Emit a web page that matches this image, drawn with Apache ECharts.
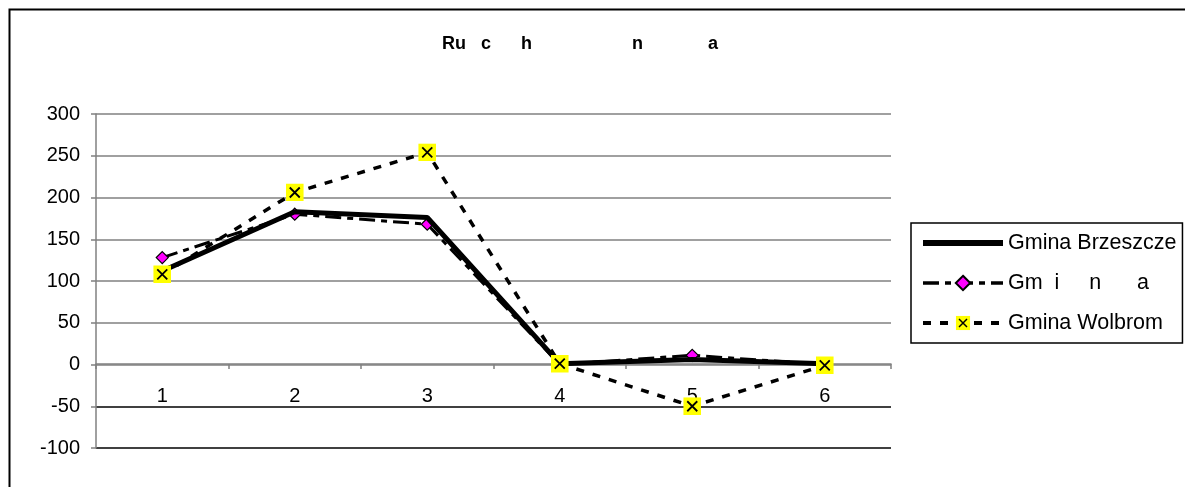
<!DOCTYPE html>
<html>
<head>
<meta charset="utf-8">
<script src="https://cdn.jsdelivr.net/npm/echarts@6/dist/echarts.min.js"></script>
<style>
html,body{margin:0;padding:0;background:#fff;}
#chart{width:1185px;height:487px;}
</style>
</head>
<body>
<div id="chart"></div>
<script>
const categories = ['1', '2', '3', '4', '5', '6'];
const brzeszcze = [112, 183, 176, 1, 6, 1];
const gminaB = [128, 180, 168, 0, 11, 0];
const wolbrom = [108, 206, 254, 1, -50, -1];
const names = ['Gmina Brzeszcze', 'Gm  i     n      a', 'Gmina Wolbrom'];
const titleText = 'Ru   c      h                    n             a';

const xSvg = 'image://data:image/svg+xml;utf8,' + encodeURIComponent(
  '<svg xmlns="http://www.w3.org/2000/svg" width="18" height="18" viewBox="0 0 18 18">' +
  '<rect x="0" y="0" width="18" height="18" fill="#ffff00"/>' +
  '<path d="M4 4 L14 14 M14 4 L4 14" stroke="#000" stroke-width="1.8"/></svg>');

const chart = echarts.init(document.getElementById('chart'), null, {renderer: 'canvas'});
const gray = '#808080';
const font = 'Liberation Sans, Arial, sans-serif';
chart.setOption({
  animation: false,
  backgroundColor: '#fff',
  textStyle: {fontFamily: font},
  graphic: [{
    type: 'rect', silent: true, z: 100,
    shape: {x: 9.5, y: 9.5, width: 1200, height: 500},
    style: {fill: 'none', stroke: '#000', lineWidth: 2}
  }],
  title: {
    text: titleText,
    left: 437, top: 30,
    textStyle: {fontSize: 18, fontWeight: 'bold', color: '#000', fontFamily: font}
  },
  legend: {
    data: [
      {name: names[0], itemStyle: {opacity: 0}, lineStyle: {width: 6}},
      {name: names[1], lineStyle: {width: 3.5}},
      {name: names[2], lineStyle: {width: 4}}
    ],
    orient: 'vertical',
    left: 911, top: 223,
    padding: [9, 6, 9, 9],
    itemGap: 18,
    itemWidth: 80, itemHeight: 18,
    borderColor: '#000', borderWidth: 1.5,
    textStyle: {fontSize: 21.5, lineHeight: 20, color: '#000', fontFamily: font}
  },
  grid: {left: 96, top: 114, right: 294, bottom: 39, containLabel: false},
  xAxis: {
    type: 'category',
    data: categories,
    boundaryGap: true,
    offset: -84,
    axisLine: {onZero: false, lineStyle: {color: gray, width: 1.5}},
    axisTick: {show: true, length: 5, lineStyle: {color: gray, width: 1.5}},
    axisLabel: {fontSize: 20, color: '#000', margin: 22},
    splitLine: {show: false}
  },
  yAxis: {
    type: 'value',
    min: -100, max: 300, interval: 50,
    axisLine: {show: true, lineStyle: {color: gray, width: 1.5}},
    axisTick: {show: true, length: 5, lineStyle: {color: gray, width: 1.5}},
    axisLabel: {fontSize: 20, color: '#000', margin: 16},
    splitLine: {show: true, lineStyle: {color: ['#000', '#000', gray, gray, gray, gray, gray, gray, gray], width: 1.5}}
  },
  series: [
    {
      name: names[1], type: 'line', data: gminaB, z: 2,
      symbol: 'diamond', symbolSize: 12,
      lineStyle: {color: '#000', width: 3, type: [16, 6, 6, 6]},
      itemStyle: {color: '#ff00ff', borderColor: '#000', borderWidth: 1.2}
    },
    {
      name: names[0], type: 'line', data: brzeszcze, z: 3,
      symbol: 'none', showSymbol: false,
      lineStyle: {color: '#000', width: 5},
      itemStyle: {color: '#000'}
    },
    {
      name: names[2], type: 'line', data: wolbrom, z: 4,
      symbol: xSvg, symbolSize: 18,
      lineStyle: {color: '#000', width: 3.5, type: [8, 9]},
      itemStyle: {color: '#ffff00'}
    }
  ]
});
</script>
</body>
</html>
